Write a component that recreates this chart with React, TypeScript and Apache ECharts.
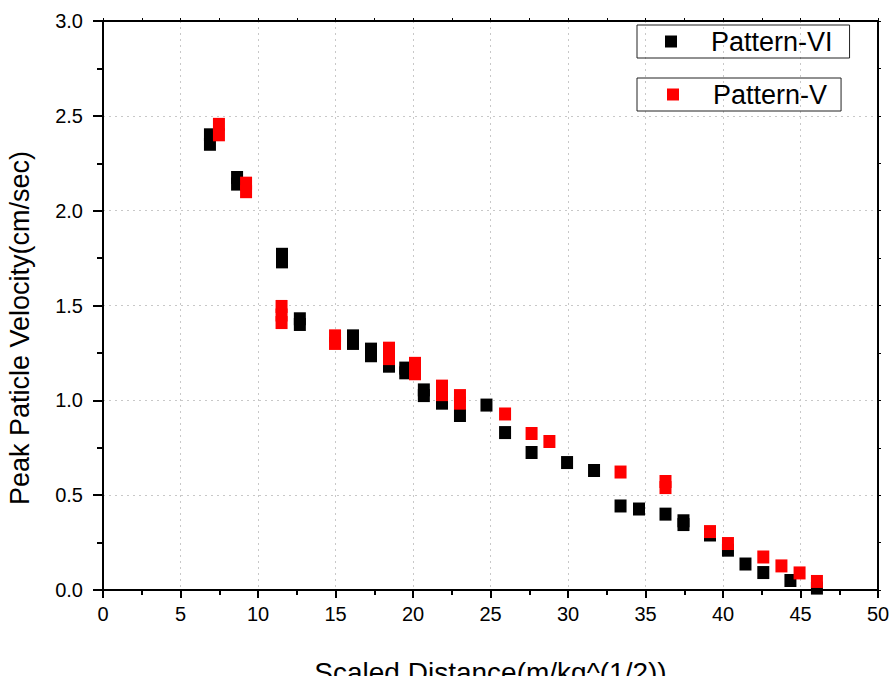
import React, { useEffect, useRef } from "react";
import * as echarts from "echarts";

// Pattern-VI (black squares)
const patternVIX = [6.9, 6.9, 8.65, 8.65, 11.55, 11.55, 12.7, 12.7, 16.13, 16.13, 17.29, 17.29, 18.45, 19.5, 19.5, 20.7, 20.7, 21.87, 23.03, 24.74, 25.94, 27.65, 29.94, 31.68, 33.39, 34.58, 36.29, 37.45, 37.45, 39.16, 40.32, 41.45, 42.6, 44.35, 46.06];
const patternVIY = [2.4, 2.35, 2.175, 2.14, 1.77, 1.73, 1.43, 1.4, 1.34, 1.3, 1.27, 1.235, 1.18, 1.17, 1.145, 1.055, 1.025, 0.985, 0.92, 0.975, 0.83, 0.725, 0.672, 0.63, 0.443, 0.427, 0.4, 0.365, 0.345, 0.29, 0.21, 0.137, 0.092, 0.05, 0.01];

// Pattern-V (red squares)
const patternVX = [7.48, 7.48, 9.23, 9.23, 11.52, 11.52, 11.52, 14.97, 14.97, 18.45, 18.45, 20.13, 20.13, 21.87, 21.87, 23.03, 23.03, 25.94, 27.65, 28.8, 33.39, 36.29, 36.29, 39.16, 40.32, 42.6, 43.77, 44.94, 46.06];
const patternVY = [2.455, 2.4, 2.145, 2.1, 1.495, 1.45, 1.41, 1.34, 1.3, 1.275, 1.22, 1.195, 1.14, 1.075, 1.03, 1.025, 0.985, 0.928, 0.825, 0.783, 0.622, 0.572, 0.54, 0.308, 0.245, 0.174, 0.127, 0.09, 0.045];

const seriesNames = ["Pattern-VI", "Pattern-V"];
const xAxisTitle = "Scaled Distance(m/kg^(1/2))";
const yAxisTitle = "Peak Paticle Velocity(cm/sec)";

const FONT = "'Liberation Sans', Arial, Helvetica, sans-serif";

export default function App() {
  const ref = useRef<HTMLDivElement>(null);

  useEffect(() => {
    if (!ref.current) return;
    const chart = echarts.init(ref.current, null, { renderer: "svg" });
    const pairs = (xs: number[], ys: number[]) => xs.map((x, i) => [x, ys[i]]);
    const axisLine = { show: true, onZero: false, lineStyle: { color: "#000", width: 2 } };
    const gridLine = { show: true, lineStyle: { color: "#c8c8c8", width: 1, type: [2, 4] as any } };

    chart.setOption({
      animation: false,
      backgroundColor: "#fff",
      textStyle: { fontFamily: FONT },
      grid: { left: 103, right: 15, top: 21, bottom: 86, containLabel: false, outerBoundsMode: "none" },
      legend: [
        {
          data: [seriesNames[0]],
          left: 637,
          top: 25,
          orient: "horizontal",
          icon: "rect",
          itemWidth: 12,
          itemHeight: 12,
          borderColor: "#222",
          borderWidth: 1,
          padding: [3, 17, 3, 28],
          textStyle: { fontSize: 27, color: "#000", fontFamily: FONT, padding: [0, 0, 0, 29] },
        },
        {
          data: [seriesNames[1]],
          left: 637,
          top: 78,
          icon: "rect",
          itemWidth: 12,
          itemHeight: 12,
          borderColor: "#222",
          borderWidth: 1,
          padding: [3, 14, 3, 30],
          textStyle: { fontSize: 27, color: "#000", fontFamily: FONT, padding: [0, 0, 0, 29] },
        },
      ],
      xAxis: [
        {
          type: "value",
          min: 0,
          max: 50,
          interval: 5,
          position: "bottom",
          name: xAxisTitle,
          nameLocation: "middle",
          nameGap: 68,
          nameTextStyle: { fontSize: 28, color: "#000", fontFamily: FONT },
          axisLine,
          axisTick: { show: true, inside: false, length: 8, lineStyle: { color: "#000", width: 2 } },
          minorTick: { show: true, splitNumber: 2, length: 5, lineStyle: { color: "#000", width: 2 } },
          axisLabel: { fontSize: 20, color: "#000", margin: 14, fontFamily: FONT },
          splitLine: gridLine,
        },
        {
          type: "value",
          min: 0,
          max: 50,
          interval: 5,
          position: "top",
          axisLine,
          axisTick: { show: true, inside: false, length: 3, lineStyle: { color: "#000", width: 1 } },
          minorTick: { show: true, splitNumber: 2, length: 3, lineStyle: { color: "#000", width: 1 } },
          axisLabel: { show: false },
          splitLine: { show: false },
        },
      ],
      yAxis: [
        {
          type: "value",
          min: 0,
          max: 3,
          interval: 0.5,
          position: "left",
          name: yAxisTitle,
          nameLocation: "middle",
          nameGap: 70,
          nameTextStyle: { fontSize: 27, color: "#000", fontFamily: FONT, padding: [0, 45, 0, 0] },
          axisLine,
          axisTick: { show: true, inside: false, length: 10, lineStyle: { color: "#000", width: 2 } },
          minorTick: { show: true, splitNumber: 2, length: 6, lineStyle: { color: "#000", width: 2 } },
          axisLabel: { fontSize: 20, color: "#000", margin: 20, fontFamily: FONT, formatter: (v: number) => v.toFixed(1) },
          splitLine: gridLine,
        },
        {
          type: "value",
          min: 0,
          max: 3,
          interval: 0.5,
          position: "right",
          axisLine,
          axisTick: { show: true, inside: false, length: 3, lineStyle: { color: "#000", width: 1 } },
          minorTick: { show: true, splitNumber: 2, length: 3, lineStyle: { color: "#000", width: 1 } },
          axisLabel: { show: false },
          splitLine: { show: false },
        },
      ],
      series: [
        {
          name: seriesNames[0],
          type: "scatter",
          symbol: "rect",
          symbolSize: [12, 13],
          itemStyle: { color: "#000000", opacity: 1 },
          data: pairs(patternVIX, patternVIY),
          z: 2,
        },
        {
          name: seriesNames[1],
          type: "scatter",
          symbol: "rect",
          symbolSize: [12, 13],
          itemStyle: { color: "#ff0000", opacity: 1 },
          data: pairs(patternVX, patternVY),
          z: 3,
        },
      ],
    });
    return () => chart.dispose();
  }, []);

  return (
    <div
      ref={ref}
      style={{ position: "fixed", left: 0, top: 0, width: 893, height: 676, background: "#fff" }}
    />
  );
}
